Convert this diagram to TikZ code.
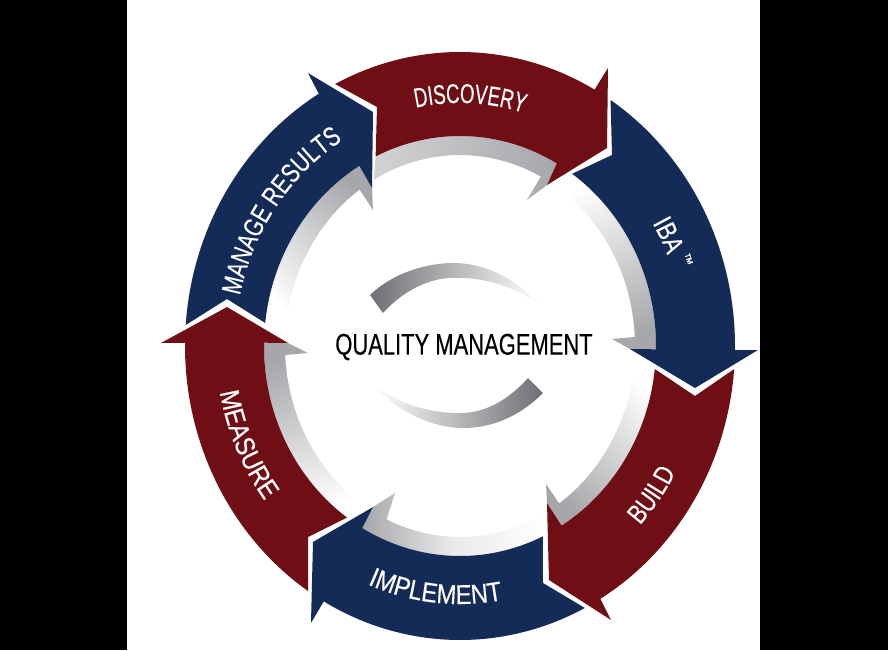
\documentclass[tikz,border=0pt]{standalone}
\usepackage{fontspec}
\usepackage{tikz}
\usetikzlibrary{decorations.text}
\setmainfont{Liberation Sans}
\newfontfamily\ringfont[FakeBold=0.3]{Liberation Sans}
\definecolor{ringRed}{RGB}{111,14,20}
\definecolor{ringBlue}{RGB}{20,43,87}
\definecolor{ringDark}{RGB}{165,167,170}
\definecolor{swooshDark}{RGB}{110,111,115}
\newcommand{\ringarc}[4]{-- (#1:#3 and #4) arc[start angle=#1,end angle=#2,x radius=#3,y radius=#4]}
\newcommand{\ringlabel}[1]{\fontsize{15.5}{18}\selectfont\ringfont\addfontfeatures{FakeStretch=#1}}
\tikzset{
  redarrow/.style={fill=ringRed},
  bluearrow/.style={fill=ringBlue},
  ringshade/.style={top color=ringDark,bottom color=white,shading angle=#1},
  ringtext/.style={decorate,decoration={text along path,text align=center,text color=white,text={#1}}}
}
\begin{document}
\begin{tikzpicture}[x=0.02cm,y=0.02cm]
  \useasboundingbox (-460,-304) rectangle (428,346);
  \fill [white] (-460,-304) rectangle (428,346);
  \fill [black] (-460,-304) rectangle (-333,346);
  \fill [black] (300,-304) rectangle (428,346);

  % grey inner ring
  \shade [left color=ringDark!50,middle color=white,right color=ringDark]
    (67,146) -- (87,161) -- (97,183) \ringarc{60.4}{115.5}{196}{210} \ringarc{119.5}{62.5}{175}{191} -- cycle;
  \shade [ringshade=-160] (170,-3) -- (152,7) \ringarc{2.7}{57}{175}{191} \ringarc{55}{-0.9}{196}{210} -- cycle;
  \shade [ringshade=135] (87,-157) -- (86,-138) \ringarc{-55.5}{-3.5}{175}{191} \ringarc{-6.3}{-58.8}{196}{210} -- cycle;
  \shade [ringshade=90,middle color=ringDark!25] (-87,-161) -- (-65,-147) \ringarc{-114.8}{-62}{175}{191} \ringarc{-65}{-119.9}{196}{210} -- cycle;
  \shade [ringshade=20] (-172,3) -- (-152,-7) \ringarc{182.7}{238}{175}{191} \ringarc{234.8}{179.1}{196}{210} -- cycle;
  \shade [ringshade=-45] (-88,158) -- (-87,136) \ringarc{125}{176}{175}{191} \ringarc{173.7}{120.9}{196}{210} -- cycle;

  % arrows
  \fill [redarrow] (-83,239) \ringarc{117}{60.7}{275}{294} -- (148,278) -- (147,198) -- (87,161) \ringarc{60.4}{115.5}{196}{210} -- cycle;
  \fill [bluearrow] (152,191) \ringarc{56.8}{-0.8}{275}{294} -- (298,-4) -- (235,-42) -- (170,-3) \ringarc{-0.9}{55.1}{196}{210} -- cycle;
  \fill [redarrow] (235,-50) \ringarc{-4.5}{-59.3}{275}{294} -- (151,-274) -- (89,-234) -- (87,-157) \ringarc{-58.8}{-6.3}{196}{210} -- cycle;
  \fill [bluearrow] (83,-237) \ringarc{-63}{-119.7}{275}{294} -- (-149,-277) -- (-147,-196) -- (-87,-161) \ringarc{-119.9}{-65}{196}{210} -- cycle;
  \fill [redarrow] (-152,-191) \ringarc{236.5}{179.4}{275}{294} -- (-299,3) -- (-233,39) -- (-172,3) \ringarc{179.1}{234.8}{196}{210} -- cycle;
  \fill [bluearrow] (-233,47) \ringarc{175.9}{120.9}{275}{294} -- (-152,273) -- (-87,234) -- (-88,158) \ringarc{120.9}{173.7}{196}{210} -- cycle;

  % labels on the ring
  \path [ringtext={|\ringlabel{0.68}|DISCOVERY}] (120:225 and 243) arc[start angle=120,end angle=55,x radius=225,y radius=243];
  \path [ringtext={|\ringlabel{0.8}|IBA}] (62:224 and 240) arc[start angle=62,end angle=-8,x radius=224,y radius=240];
  \path [ringtext={|\fontsize{8}{9}\selectfont\ringfont\addfontfeatures{FakeStretch=0.9}|™}] (50:236 and 252) arc[start angle=50,end angle=-10,x radius=236,y radius=252];
  \path [ringtext={|\ringlabel{0.8}|BUILD}] (-75:246 and 263) arc[start angle=-75,end angle=2,x radius=246,y radius=263];
  \path [ringtext={|\ringlabel{0.87}|IMPLEMENT}] (225:241 and 258) arc[start angle=225,end angle=303,x radius=241,y radius=258];
  \path [ringtext={|\ringlabel{0.88}|MEASURE}] (164:244 and 258) arc[start angle=164,end angle=244,x radius=244,y radius=258];
  \path [ringtext={|\ringlabel{0.76}|MANAGE RESULTS}] (183.5:225 and 241) arc[start angle=183.5,end angle=105,x radius=225,y radius=241];

  % centre
  \shade [left color=swooshDark,right color=white] (-90,51) .. controls (-65,75) and (-30,83) .. (-7,83) .. controls (25,83) and (55,68) .. (80,41) .. controls (55,60) and (20,70) .. (-10,68) .. controls (-35,67) and (-60,52) .. (-77,33) -- cycle;
  \shade [left color=white,right color=swooshDark] (-87,-39) .. controls (-60,-68) and (-25,-82) .. (3,-82) .. controls (35,-82) and (62,-68) .. (83,-47) -- (68,-32) .. controls (50,-52) and (28,-66) .. (3,-67) .. controls (-30,-68) and (-60,-58) .. (-87,-39) -- cycle;
  \node (quality) at (4,-1) {\fontsize{17}{20}\selectfont\ringfont\addfontfeatures{FakeStretch=0.735}QUALITY MANAGEMENT};
\end{tikzpicture}
\end{document}
